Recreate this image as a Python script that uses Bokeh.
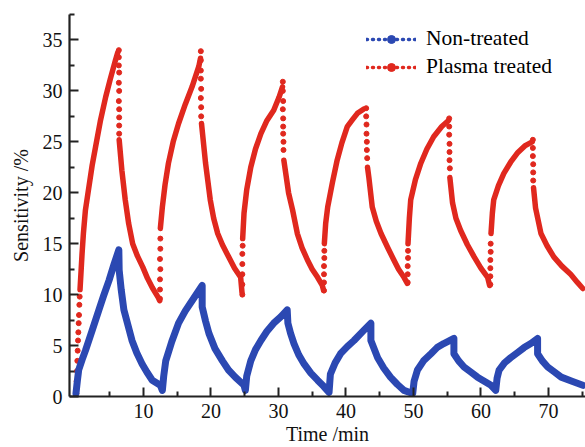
import numpy as np
from bokeh.plotting import figure
from bokeh.models import Range1d, FixedTicker, Legend, LegendItem
from bokeh.embed import file_html
from bokeh.resources import INLINE

nan = float("nan")

# ---- data ----
# Plasma treated: dense (continuous) segments, NaN separates segments
red_x = [0.6, 0.9, 1.1, 1.4, 1.9, 2.4, 2.9, 3.6, 4.4, 5.1, 5.85, 6.2, nan,
         6.4, 6.8, 7.3, 7.8, 8.4, 9.1, 9.9, 10.6, 11.3, 12.2, 12.4, nan,
         12.5, 12.8, 13.2, 13.7, 14.4, 15.2, 16.2, 17.2, 18.2, 18.45, nan,
         18.6, 19.2, 19.9, 20.4, 21.0, 21.7, 22.4, 23.5, 24.4, 24.6, nan,
         24.7, 24.9, 25.3, 25.9, 26.6, 27.4, 28.3, 29.3, 30.1, 30.6, nan,
         30.8, 31.5, 32.1, 32.8, 33.5, 34.3, 35.0, 35.8, 36.5, 36.7, nan,
         36.8, 37.0, 37.3, 38.0, 38.7, 39.4, 40.2, 41.0, 41.7, 42.6, nan,
         43.2, 43.4, 43.9, 44.5, 45.2, 46.2, 47.1, 47.8, 48.6, 49.1, nan,
         49.2, 49.4, 49.6, 50.3, 51.1, 52.0, 53.0, 54.2, 55.2, nan,
         55.4, 55.8, 56.3, 57.0, 58.0, 59.0, 60.0, 61.0, 61.3, nan,
         61.5, 61.7, 61.9, 62.6, 63.4, 64.4, 65.4, 66.5, 67.6, nan,
         67.8, 68.1, 68.9, 69.8, 70.8, 72.0, 73.3, 74.3, 75.1]
red_y = [10.5, 14.0, 16.0, 18.3, 20.5, 22.7, 24.5, 27.0, 29.4, 31.2, 33.0, 33.8, nan,
         25.2, 22.2, 19.3, 17.0, 15.0, 13.8, 12.7, 11.6, 10.7, 9.7, 9.4, nan,
         16.5, 18.6, 20.8, 22.9, 25.0, 26.8, 28.7, 30.4, 32.4, 33.2, nan,
         26.8, 22.9, 19.3, 17.5, 16.0, 14.9, 14.0, 12.6, 11.7, 10.2, nan,
         15.5, 18.0, 20.3, 22.5, 24.3, 25.8, 27.1, 28.1, 29.4, 30.4, nan,
         23.2, 20.0, 18.3, 16.0, 14.6, 13.4, 12.5, 11.7, 10.9, 10.4, nan,
         15.0, 17.0, 18.6, 21.0, 23.2, 24.9, 26.5, 27.2, 27.8, 28.2, nan,
         22.5, 21.5, 18.6, 17.2, 16.0, 14.6, 13.4, 12.5, 11.7, 11.1, nan,
         15.0, 17.5, 19.3, 21.3, 22.9, 24.3, 25.5, 26.5, 27.1, nan,
         21.5, 19.0, 17.5, 16.3, 14.9, 13.7, 12.6, 11.7, 10.9, nan,
         16.0, 18.0, 19.3, 20.7, 21.9, 23.0, 23.9, 24.6, 25.0, nan,
         20.5, 18.5, 16.0, 14.8, 13.7, 12.8, 12.0, 11.2, 10.6]

# Plasma treated: sparse points at the switching steps
red_step_x = [0.05, 0.1, 0.15, 0.2, 0.25, 0.3, 0.35, 0.4, 0.45, 0.5, 0.55,
              6.35, 6.35, 6.35, 6.4, 6.35, 6.4, 6.35, 6.4, 6.4, 6.4, 6.4,
              12.45, 12.45, 12.45, 12.5, 12.45, 12.5, 12.5,
              18.5, 18.5, 18.5, 18.5, 18.55, 18.5, 18.55, 18.55,
              24.65, 24.65, 24.65, 24.65, 24.65, 24.7,
              30.65, 30.65, 30.7, 30.65, 30.7, 30.7, 30.7, 30.75, 30.75,
              36.75, 36.75, 36.75, 36.75, 36.8, 36.8,
              43.0, 43.0, 43.05, 43.05, 43.1, 43.1, 43.15,
              49.15, 49.15, 49.15, 49.2, 49.2,
              55.3, 55.3, 55.3, 55.35, 55.35, 55.35, 55.4,
              61.4, 61.4, 61.4, 61.4, 61.45, 61.45,
              67.7, 67.7, 67.7, 67.75, 67.75, 67.75]
red_step_y = [0.3, 1.5, 2.5, 3.5, 4.5, 5.5, 6.3, 7.2, 8.0, 9.0, 9.8,
              34.0, 33.3, 32.5, 31.8, 30.8, 30.0, 29.0, 28.2, 27.4, 26.6, 25.8,
              9.6, 10.5, 11.5, 12.5, 13.5, 14.5, 15.5,
              33.9, 33.0, 32.0, 31.2, 30.2, 29.3, 28.4, 27.5,
              10.0, 11.0, 12.0, 13.0, 14.0, 14.8,
              30.9, 30.0, 29.0, 28.2, 27.3, 26.5, 25.8, 25.0, 24.2,
              10.4, 11.2, 12.0, 12.8, 13.6, 14.3,
              28.3, 27.5, 26.7, 25.8, 25.0, 24.2, 23.4,
              11.2, 12.0, 12.8, 13.6, 14.3,
              27.3, 26.5, 25.7, 24.8, 24.0, 23.2, 22.4,
              11.0, 11.8, 12.6, 13.4, 14.2, 15.0,
              25.2, 24.4, 23.6, 22.8, 22.0, 21.2]

# Non-treated
blue_x = [0.0, 0.2, 0.4, 0.9, 1.4, 2.4, 3.4, 4.1, 4.9, 5.6, 6.35, 6.4, 6.7, 7.1, 7.7, 8.3, 9.0, 9.8, 10.5, 11.3, 12.5, 12.8,
          13.0, 13.3, 14.2, 15.2, 16.2, 17.2, 18.7, 18.7, 19.2, 19.7, 20.6, 21.7, 22.6, 23.6, 24.9, 25.1,
          25.3, 25.9, 26.6, 27.4, 28.3, 29.3, 30.3, 31.3, 31.4, 31.8, 32.3, 33.0, 33.8, 34.8, 35.8, 36.7, 37.5,
          37.6, 37.7, 38.4, 39.2, 40.2, 41.2, 42.5, 43.7, 43.7, 44.7, 45.6, 46.6, 47.6, 48.6, 49.9,
          50.1, 50.6, 51.5, 52.6, 53.5, 54.5, 56.0, 56.0, 56.7, 57.5, 58.5, 59.5, 60.5, 61.5, 62.2,
          62.4, 62.7, 63.5, 64.4, 65.4, 66.4, 67.4, 68.4, 68.4, 69.1, 69.9, 70.9, 71.9, 73.5, 75.1]
blue_y = [0.3, 1.5, 2.6, 3.6, 4.5, 6.5, 8.5, 9.9, 11.4, 12.9, 14.4, 12.4, 10.5, 8.5, 7.0, 5.5, 4.3, 3.2, 2.4, 1.6, 1.1, 0.6,
          2.0, 3.5, 5.4, 7.2, 8.4, 9.4, 10.9, 8.8, 7.4, 6.2, 4.7, 3.5, 2.6, 1.9, 1.1, 0.6,
          2.0, 3.5, 4.6, 5.5, 6.4, 7.2, 7.8, 8.5, 7.2, 6.2, 5.2, 4.1, 3.2, 2.3, 1.6, 1.0, 0.4,
          1.3, 2.2, 3.3, 4.2, 4.9, 5.5, 6.4, 7.2, 5.5, 3.8, 2.8, 1.9, 1.2, 0.6, 0.3,
          1.5, 2.6, 3.5, 4.2, 4.8, 5.2, 5.7, 4.2, 3.5, 2.9, 2.4, 1.9, 1.5, 1.1, 0.6,
          1.8, 2.6, 3.3, 3.8, 4.3, 4.8, 5.2, 5.7, 4.2, 3.5, 2.9, 2.4, 1.9, 1.5, 1.1]

x_ticks = [10, 20, 30, 40, 50, 60, 70]
x_minor = [5, 15, 25, 35, 45, 55, 65, 75]
y_ticks = [0, 5, 10, 15, 20, 25, 30, 35]
y_minor = [2.5, 7.5, 12.5, 17.5, 22.5, 27.5, 32.5, 37.5]

RED = "#e0281e"
BLUE = "#2b48b2"
FONT = "'Liberation Serif', 'Times New Roman', serif"

p = figure(width=585, height=447, x_range=Range1d(-0.96, 75.5), y_range=Range1d(0, 37.5),
           output_backend="svg", toolbar_location=None,
           min_border_left=69, min_border_right=0, min_border_top=14, min_border_bottom=51)
p.outline_line_color = None
p.xgrid.visible = False
p.ygrid.visible = False
p.background_fill_color = "white"
p.border_fill_color = "white"

# curves
p.line(red_x, red_y, line_color=RED, line_width=5.5, line_join="round", line_cap="round")
p.scatter(red_step_x, red_step_y, size=5, fill_color=RED, line_color=RED)
p.line(blue_x, blue_y, line_color=BLUE, line_width=7, line_join="round", line_cap="round")

# legend renderers (NaN data, used only for the legend samples)
lb1 = p.line(x=[nan], y=[nan], line_color=BLUE, line_width=3.5, line_dash="1 5", line_cap="round")
lb2 = p.scatter(x=[nan], y=[nan], size=7, fill_color=BLUE, line_color=BLUE, marker="circle")
lr1 = p.line(x=[nan], y=[nan], line_color=RED, line_width=3.5, line_dash="1 5", line_cap="round")
lr2 = p.scatter(x=[nan], y=[nan], size=7, fill_color=RED, line_color=RED, marker="circle")
legend = Legend(items=[LegendItem(label="Non-treated", renderers=[lb1, lb2]),
                       LegendItem(label="Plasma treated", renderers=[lr1, lr2])],
                location=(297, 317), padding=0, margin=0, spacing=3,
                glyph_width=50, glyph_height=20, label_height=20, label_standoff=10,
                label_text_font=FONT, label_text_font_size="21.5px", label_text_color="black",
                border_line_alpha=0, background_fill_alpha=0)
p.add_layout(legend)

for ax in (p.xaxis[0], p.yaxis[0]):
    ax.axis_line_width = 2.2
    ax.axis_line_color = "#222222"
    ax.major_tick_line_width = 2
    ax.minor_tick_line_width = 2
    ax.major_tick_line_color = "#222222"
    ax.minor_tick_line_color = "#222222"
    ax.major_tick_in = 9
    ax.major_tick_out = 0
    ax.minor_tick_in = 5
    ax.minor_tick_out = 0
    ax.major_label_text_font = FONT
    ax.major_label_text_font_size = "20px"
    ax.major_label_text_color = "#111111"
    ax.axis_label_text_font = FONT
    ax.axis_label_text_font_size = "20px"
    ax.axis_label_text_font_style = "normal"
    ax.axis_label_text_color = "#111111"
    ax.major_label_standoff = 7

p.xaxis[0].ticker = FixedTicker(ticks=x_ticks, minor_ticks=x_minor)
p.yaxis[0].ticker = FixedTicker(ticks=y_ticks, minor_ticks=y_minor)
p.xaxis[0].axis_label = "Time /min"
p.yaxis[0].axis_label = "Sensitivity /%"
p.xaxis[0].axis_label_standoff = 2
p.yaxis[0].axis_label_standoff = 8

open("out.html", "w").write(file_html(p, INLINE))
